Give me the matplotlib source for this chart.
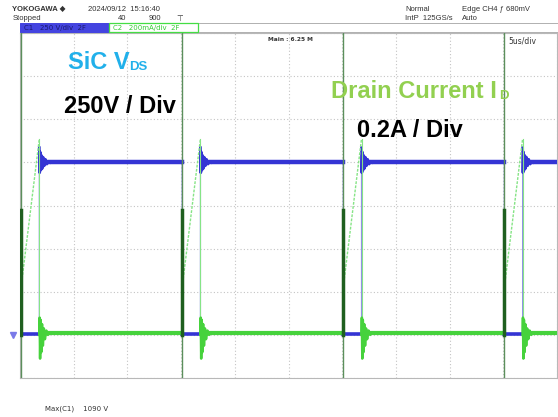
import numpy as np
import matplotlib.pyplot as plt
from matplotlib.patches import Rectangle

W, H = 558, 417

# scope settings: 5 us/div (10 div), VDS 250 V/div, ID 0.2 A/div (8 div)
t_on = [0.1, 15.1, 30.1, 45.1]      # us, switch turns on (VDS falls)
t_on_width = 1.7                     # us, on time
vds_high = 1000                      # V
vds_low = 5                          # V
# VDS overshoot / ringing after turn-off (dt in us from turn-off)
vds_ring_dt = [0.0, 0.03, 0.08, 0.14, 0.20, 0.27, 0.35, 0.45, 0.56, 0.70, 0.85, 1.0]
vds_ring_v = [1085, 940, 1060, 955, 1040, 965, 1030, 980, 1018, 990, 1006, 1000]

id_low = 0.01                        # A
id_ramp = [0.22, 0.91]               # A at turn-on / turn-off
id_spike = [-0.3, 1.5]               # turn-on spike (runs off screen)
id_spike_core = [0.0, 0.58]
id_ring_dt = [0.0, 0.03, 0.07, 0.12, 0.18, 0.25, 0.33, 0.42, 0.52, 0.65, 0.80, 1.0]
id_ring_a = [0.0, 0.08, -0.11, 0.07, -0.08, 0.05, -0.05, 0.03, -0.02, 0.02, 0.0, 0.01]

t_end = 50
blue = '#3434d4'
blue_edge = '#9090e8'
green = '#46d23c'
green_light = '#86e486'
green_dark = '#1f5f1f'

fig = plt.figure(figsize=(W / 100, H / 100), dpi=100)
ax = fig.add_axes([20 / W, (H - 378) / H, 537 / W, 345 / H])
ax.set_xlim(0, t_end)
ax.set_ylim(-250, 1750)
ax.set_xticks(np.arange(0, 51, 5))
ax.set_yticks(np.arange(-250, 1751, 250))
ax.tick_params(length=0, labelbottom=False, labelleft=False)
ax.grid(True, color='#c4c4c4', linestyle=(0, (1, 2)), linewidth=0.8)
for s in ax.spines.values():
    s.set_color('#b8b8b8')
    s.set_linewidth(0.8)

ax2 = ax.twinx()
ax2.set_ylim(-0.2, 1.4)
ax2.set_yticks([])
for s in ax2.spines.values():
    s.set_visible(False)

# VDS trace
vt, vv = [], []
for k, t0 in enumerate(t_on):
    t1 = t0 + t_on_width
    nxt = t_on[k + 1] if k + 1 < len(t_on) else t_end
    if k > 0:
        vt.append(t0); vv.append(vds_high)
    vt += [t0, t1]; vv += [vds_low, vds_low]
    vt += [t1 + d for d in vds_ring_dt]; vv += vds_ring_v
    vt.append(nxt); vv.append(vds_high)
    ax.plot([t0, t1], [vds_low, vds_low], color=blue, lw=2.6, zorder=3)
    ax.plot([t1 + d for d in vds_ring_dt], vds_ring_v, color=blue, lw=2.0, zorder=3)
    ax.plot([t1 + vds_ring_dt[-3], nxt], [vds_high, vds_high], color=blue, lw=3.2, zorder=3)
ax.plot(vt, vv, color=blue_edge, lw=0.9, zorder=2)

# ID trace
for k, t0 in enumerate(t_on):
    t1 = t0 + t_on_width
    nxt = t_on[k + 1] if k + 1 < len(t_on) else t_end
    ax2.plot([t0, t1], id_ramp, color=green_light, lw=1.0, linestyle=(0, (2, 1)), zorder=4)
    ax2.plot([t1, t1], [id_ramp[1], id_low], color=green_light, lw=0.8, zorder=4)
    ax2.plot([t1 + d for d in id_ring_dt], id_ring_a, color=green, lw=1.8, zorder=4)
    ax2.plot([t1 + id_ring_dt[-3], nxt], [id_low, id_low], color=green, lw=3.0, zorder=4)
    ax2.plot([t0, t0], id_spike, color='#5c8f5c', lw=1.0, zorder=5)
    ax2.plot([t0, t0], id_spike_core, color=green_dark, lw=2.5, zorder=5)

# ground marker
ax.plot([-0.013], [0], marker='v', color='#7a7ae8', markersize=5,
        transform=ax.get_yaxis_transform(), clip_on=False)


def ftext(x, y, s, **kw):
    fig.text(x / W, 1 - y / H, s, va='baseline', **kw)


hdr = dict(fontsize=5.5, color='#333333', family=['Liberation Sans', 'DejaVu Sans'])
ftext(12, 11, 'YOKOGAWA \u25c6', fontweight='bold', **hdr)
ftext(88, 11, '2024/09/12  15:16:40', **hdr)
ftext(13, 20.5, 'Stopped', **hdr)
ftext(118, 20.5, '40', **hdr)
ftext(149, 20.5, '900', **hdr)
ftext(176, 20.5, '\u22a4', **hdr)
ftext(405, 11, 'Normal', **hdr)
ftext(405, 20.5, 'IntP  125GS/s', **hdr)
ftext(462, 11, 'Edge CH4 \u0192 680mV', **hdr)
ftext(462, 20.5, 'Auto', **hdr)

# channel bar
fig.add_artist(Rectangle((20 / W, 1 - 32 / H), (W - 20) / W, 9 / H, transform=fig.transFigure,
                         facecolor='white', edgecolor='#b0b0b0', lw=0.7))
fig.add_artist(Rectangle((20 / W, 1 - 32 / H), 89 / W, 9 / H, transform=fig.transFigure,
                         facecolor='#4444e0', edgecolor='#4444e0', lw=0.7))
fig.add_artist(Rectangle((109 / W, 1 - 32 / H), 89 / W, 9 / H, transform=fig.transFigure,
                         facecolor='white', edgecolor='#44dd44', lw=0.9))
ftext(24, 30, 'C1   250 V/div  2F', fontsize=5, color='#1a1a70')
ftext(113, 30, 'C2   200mA/div  2F', fontsize=5, color='#33cc33')

ftext(268, 41, 'Main : 6.25 M', fontsize=4.2, fontweight='bold', color='#333333')
ftext(508, 44, '5us/div', fontsize=5.5, color='#333333')
ftext(45, 410, 'Max(C1)    1090 V', fontsize=5, color='#333333')

# annotations
lab = dict(family='Liberation Sans', fontweight='bold')
ftext(68, 69, 'SiC V', fontsize=17, color='#21b0ea', **lab)
ftext(129, 70, 'DS', fontsize=9.5, color='#21b0ea', **lab)
ftext(64, 113, '250V / Div', fontsize=17, color='black', **lab)
ftext(331, 98, 'Drain Current I', fontsize=17, color='#92d050', **lab)
ftext(499, 99, 'D', fontsize=9.5, color='#92d050', **lab)
ftext(357, 137, '0.2A / Div', fontsize=17, color='black', **lab)

fig.savefig('out.png', dpi=100)
